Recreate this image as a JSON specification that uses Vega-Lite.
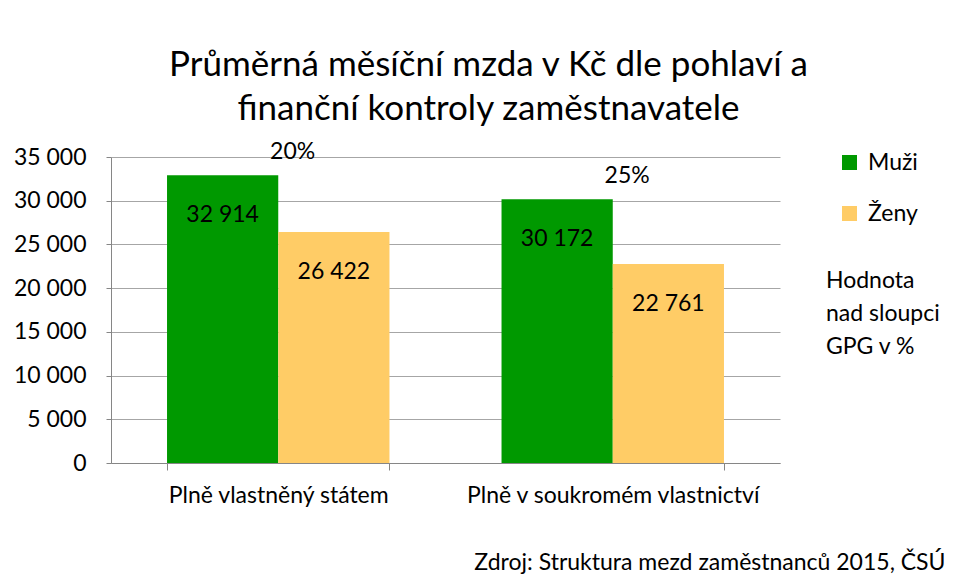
{
  "$schema": "https://vega.github.io/schema/vega-lite/v6.json",
  "width": 669,
  "height": 306,
  "autosize": "none",
  "padding": {"left": 111, "top": 157, "right": 179, "bottom": 118},
  "background": "white",
  "config": {
    "locale": {"number": {"decimal": ",", "thousands": " ", "grouping": [3], "currency": ["", " Kč"]}},
    "font": "Lato",
    "view": {"stroke": null}
  },
  "title": {
    "text": ["Průměrná měsíční mzda v Kč dle pohlaví a", "finanční kontroly zaměstnavatele"],
    "font": "Lato",
    "fontSize": 35,
    "fontWeight": "normal",
    "color": "black",
    "anchor": "middle",
    "frame": "group",
    "dx": 43,
    "offset": 14,
    "lineHeight": 44
  },
  "data": {
    "values": [
      {"kategorie": "Plně vlastněný státem", "pohlavi": "Muži", "mzda": 32914, "gpg": "20%"},
      {"kategorie": "Plně vlastněný státem", "pohlavi": "Ženy", "mzda": 26422, "gpg": "20%"},
      {"kategorie": "Plně v soukromém vlastnictví", "pohlavi": "Muži", "mzda": 30172, "gpg": "25%"},
      {"kategorie": "Plně v soukromém vlastnictví", "pohlavi": "Ženy", "mzda": 22761, "gpg": "25%"}
    ]
  },
  "encoding": {
    "x": {
      "field": "kategorie",
      "type": "nominal",
      "sort": null,
      "scale": {"paddingInner": 0.335, "paddingOuter": 0.1675},
      "axis": {
        "title": "Zdroj: Struktura mezd zaměstnanců 2015, ČSÚ",
        "titleFont": "Lato",
        "titleFontSize": 23,
        "titleFontWeight": "normal",
        "titleColor": "black",
        "titleAlign": "right",
        "titleAnchor": null,
        "titleX": 834,
        "titleY": 99,
        "titleBaseline": "middle",
        "labelAngle": 0,
        "labelLimit": 0,
        "labelFont": "Lato",
        "labelFontSize": 23,
        "labelColor": "black",
        "labelPadding": 14,
        "tickBand": "extent",
        "tickSize": 7,
        "tickColor": "#868686",
        "domainColor": "#868686",
        "grid": false
      }
    },
    "xOffset": {"field": "pohlavi", "type": "nominal", "sort": ["Muži", "Ženy"], "scale": {"paddingInner": 0, "paddingOuter": 0}},
    "y": {
      "field": "mzda",
      "type": "quantitative",
      "scale": {"domain": [0, 35000], "nice": false},
      "axis": {
        "title": null,
        "values": [0, 5000, 10000, 15000, 20000, 25000, 30000, 35000],
        "format": ",d",
        "labelFont": "Lato",
        "labelFontSize": 23,
        "labelColor": "black",
        "labelPadding": 20,
        "tickSize": 5,
        "tickColor": "#868686",
        "domainColor": "#868686",
        "gridColor": "#A6A6A6",
        "gridWidth": 1
      }
    }
  },
  "layer": [
    {
      "mark": {"type": "bar"},
      "encoding": {
        "color": {
          "field": "pohlavi",
          "type": "nominal",
          "sort": ["Muži", "Ženy"],
          "scale": {"domain": ["Muži", "Ženy"], "range": ["#009900", "#FFCC66"]},
          "legend": {
            "orient": "none",
            "legendX": 715,
            "legendY": -6,
            "title": ["Hodnota", "nad sloupci", "GPG v %"],
            "titleOrient": "bottom",
            "titleFont": "Lato",
            "titleFontSize": 23,
            "titleFontWeight": "normal",
            "titleColor": "black",
            "titleLineHeight": 33,
            "titlePadding": 44,
            "titleAnchor": "start",
            "symbolType": "square",
            "symbolSize": 225,
            "symbolStrokeWidth": 0,
            "symbolOffset": 12,
            "labelFont": "Lato",
            "labelFontSize": 23,
            "labelColor": "black",
            "labelOffset": 7,
            "rowPadding": 27
          }
        }
      }
    },
    {
      "mark": {"type": "text", "font": "Lato", "fontSize": 23, "color": "black", "baseline": "middle", "dy": 40},
      "encoding": {
        "text": {"field": "mzda", "type": "quantitative", "format": ",d"}
      }
    },
    {
      "transform": [{"filter": "datum.pohlavi == 'Muži'"}],
      "mark": {"type": "text", "font": "Lato", "fontSize": 23, "color": "black", "baseline": "middle", "dy": -23, "dx": 70},
      "encoding": {
        "text": {"field": "gpg", "type": "nominal"}
      }
    }
  ]
}
